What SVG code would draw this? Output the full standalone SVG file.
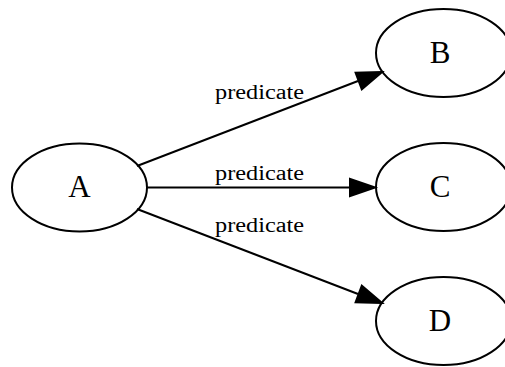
<svg xmlns="http://www.w3.org/2000/svg" width="505" height="367" viewBox="0 0 505 367">
<style>
.node ellipse{fill:none;stroke:#000;stroke-width:2}
.node text{font-family:"Liberation Serif","Times New Roman",serif;font-size:31px;text-anchor:middle;fill:#000}
.edge line{stroke:#000;stroke-width:2}
.edge polygon{fill:#000;stroke:#000;stroke-width:2}
.lbl{font-family:"Liberation Serif","Times New Roman",serif;font-size:20px;fill:#000}
</style>
<rect width="505" height="367" fill="#fff"/>
<g id="connectors">
<g class="edge" id="A-B">
<line x1="137" y1="166" x2="358" y2="81"/>
<polygon points="382,72 355.6,72.8 361.8,89.2"/>
<text class="lbl" x="215" y="99" textLength="89" lengthAdjust="spacingAndGlyphs">predicate</text>
</g>
<g class="edge" id="A-C">
<line x1="147" y1="187.5" x2="352" y2="187.5"/>
<polygon points="375,187.5 350,179 350,196"/>
<text class="lbl" x="215" y="180" textLength="89" lengthAdjust="spacingAndGlyphs">predicate</text>
</g>
<g class="edge" id="A-D">
<line x1="137" y1="209" x2="358" y2="294"/>
<polygon points="382,303 355.6,302.2 361.8,285.8"/>
<text class="lbl" x="215" y="232" textLength="89" lengthAdjust="spacingAndGlyphs">predicate</text>
</g>
</g>
<g class="node" id="A">
<ellipse cx="79.5" cy="187.5" rx="67.5" ry="44"/>
<text x="79.5" y="197">A</text>
</g>
<g class="node" id="B">
<ellipse cx="443.5" cy="53" rx="67.5" ry="44"/>
<text x="440" y="63">B</text>
</g>
<g class="node" id="C">
<ellipse cx="443.5" cy="187" rx="67.5" ry="44"/>
<text x="440" y="197">C</text>
</g>
<g class="node" id="D">
<ellipse cx="443.5" cy="321" rx="67.5" ry="44"/>
<text x="440" y="331">D</text>
</g>
</svg>
